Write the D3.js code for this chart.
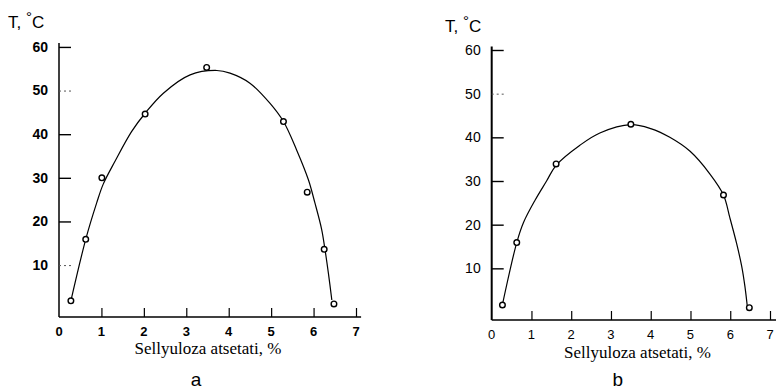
<!DOCTYPE html>
<html>
<head>
<meta charset="utf-8">
<script src="https://cdn.jsdelivr.net/npm/d3@7"></script>
<style>
  html, body { margin: 0; padding: 0; background: #fff; }
  svg { display: block; }
</style>
</head>
<body>
<svg id="chart" width="776" height="390"></svg>
<script>
// ---- Data ----
const xTicks = [0, 1, 2, 3, 4, 5, 6, 7];
const yTicks = [10, 20, 30, 40, 50, 60];
const xTitle = "Sellyuloza atsetati, %";
const panelLabels = ["a", "b"];

// Panel a: measured points
const aPointsX = [0.28, 0.63, 1.01, 2.03, 3.48, 5.29, 5.85, 6.25, 6.48];
const aPointsY = [1.8, 15.9, 30.0, 44.6, 55.3, 42.9, 26.7, 13.6, 1.1];
// Panel a: smooth fitted curve
const aCurveX = [0.28, 0.63, 0.89, 1.04, 1.32, 1.71, 2.03, 2.46, 3.09, 3.72, 4.03, 4.50, 4.97, 5.29, 5.60, 5.88, 6.03, 6.19, 6.27, 6.35, 6.43];
const aCurveY = [1.8, 15.9, 24.3, 28.5, 33.8, 40.6, 44.8, 49.4, 53.6, 54.6, 54.0, 51.7, 47.1, 42.9, 36.4, 29.5, 24.3, 18.2, 13.5, 8.1, 2.0];

// Panel b: measured points
const bPointsX = [0.27, 0.63, 1.62, 3.50, 5.83, 6.48];
const bPointsY = [1.6, 15.9, 33.9, 43.0, 26.8, 1.0];
// Panel b: smooth fitted curve
const bCurveX = [0.27, 0.63, 0.80, 1.09, 1.38, 1.62, 2.22, 2.72, 3.50, 4.00, 4.48, 4.99, 5.49, 5.83, 5.99, 6.16, 6.29, 6.37, 6.43];
const bCurveY = [1.7, 15.9, 20.5, 25.6, 30.0, 33.6, 38.2, 41.0, 42.9, 42.0, 40.0, 36.8, 31.6, 26.8, 21.6, 15.7, 10.4, 5.8, 1.2];

// ---- Layout ----
const panels = [
  { px: aPointsX, py: aPointsY, cx: aCurveX, cy: aCurveY,
    x0: 59, x7: 356, xEnd: 7.12, yTop: 43, yBot: 317, yMin: -1.9, yMax: 60.9,
    tickBold: true, titleX: 208, titleY: 354, labX: 196, labY: 386,
    tX: 8, tY: 28, axisW: 1.5, label: panelLabels[0], dashed: [50, 10] },
  { px: bPointsX, py: bPointsY, cx: bCurveX, cy: bCurveY,
    x0: 491.7, x7: 770, xEnd: 7.2, yTop: 46.5, yBot: 320, yMin: -1.83, yMax: 60.8,
    tickBold: false, titleX: 637.5, titleY: 358, labX: 617.7, labY: 386,
    tX: 445, tY: 32, axisW: 2, label: panelLabels[1], dashed: [50] }
];

const svg = d3.select("#chart");

panels.forEach(p => {
  const x = d3.scaleLinear().domain([0, 7]).range([p.x0, p.x7]);
  const y = d3.scaleLinear().domain([p.yMin, p.yMax]).range([p.yBot, p.yTop]);
  const g = svg.append("g");

  // Y axis (ticks pointing inward / right)
  const yAxis = d3.axisRight(y).tickValues(yTicks).tickSize(12).tickFormat("");
  const ya = g.append("g").attr("transform", `translate(${p.x0},0)`).call(yAxis);
  ya.select(".domain").attr("d", `M0,${p.yTop}V${p.yBot}`).attr("stroke", "#000").attr("stroke-width", p.axisW);
  ya.selectAll(".tick line").attr("stroke", "#000").attr("stroke-width", 1.4)
    .filter(d => p.dashed.includes(d)).attr("stroke-dasharray", "2,3").attr("stroke-width", 1).attr("stroke", "#555");

  // Y tick labels
  g.selectAll(".ylab").data(yTicks).join("text")
    .attr("x", p.x0 - 11).attr("y", d => y(d)).attr("dy", "0.35em")
    .attr("text-anchor", "end")
    .attr("font-family", "Liberation Sans, Arial, sans-serif")
    .attr("font-size", 14).attr("font-weight", p.tickBold ? "bold" : "normal")
    .text(d => d);

  // X axis (ticks pointing inward / up)
  const xAxis = d3.axisTop(x).tickValues(xTicks.slice(1)).tickSize(9).tickFormat("");
  const xa = g.append("g").attr("transform", `translate(0,${p.yBot})`).call(xAxis);
  xa.select(".domain").attr("d", `M${p.x0},0H${x(p.xEnd)}`).attr("stroke", "#000").attr("stroke-width", 1.6);
  xa.selectAll(".tick line").attr("stroke", "#000").attr("stroke-width", 1.2);

  // X tick labels
  g.selectAll(".xlab").data(xTicks).join("text")
    .attr("x", d => x(d)).attr("y", p.yBot + 19)
    .attr("text-anchor", "middle")
    .attr("font-family", "Liberation Sans, Arial, sans-serif")
    .attr("font-size", 13).attr("font-weight", p.tickBold ? "bold" : "normal")
    .text(d => d);

  // X title
  g.append("text").attr("x", p.titleX).attr("y", p.titleY)
    .attr("text-anchor", "middle")
    .attr("font-family", "Liberation Serif, Times New Roman, serif")
    .attr("font-size", 17).text(xTitle);

  // Y title "T, °C"
  const t = g.append("text").attr("x", p.tX).attr("y", p.tY)
    .attr("font-family", "Liberation Sans, Arial, sans-serif").attr("font-size", 17);
  t.append("tspan").text("T, ");
  t.append("tspan").attr("dy", -6).attr("font-size", 15).text("°");
  t.append("tspan").attr("dy", 6).text("C");

  // Panel label
  g.append("text").attr("x", p.labX).attr("y", p.labY)
    .attr("text-anchor", "middle")
    .attr("font-family", "Liberation Sans, Arial, sans-serif")
    .attr("font-size", 19).text(p.label);

  // Curve
  const curveData = p.cx.map((v, i) => [v, p.cy[i]]);
  const line = d3.line().x(d => x(d[0])).y(d => y(d[1])).curve(d3.curveCatmullRom.alpha(0.5));
  g.append("path").datum(curveData).attr("d", line)
    .attr("fill", "none").attr("stroke", "#000").attr("stroke-width", 1.2);

  // Points
  const pts = p.px.map((v, i) => [v, p.py[i]]);
  g.selectAll(".pt").data(pts).join("circle")
    .attr("cx", d => x(d[0])).attr("cy", d => y(d[1])).attr("r", 2.8)
    .attr("fill", "#fff").attr("stroke", "#000").attr("stroke-width", 1.4);
});
</script>
</body>
</html>
